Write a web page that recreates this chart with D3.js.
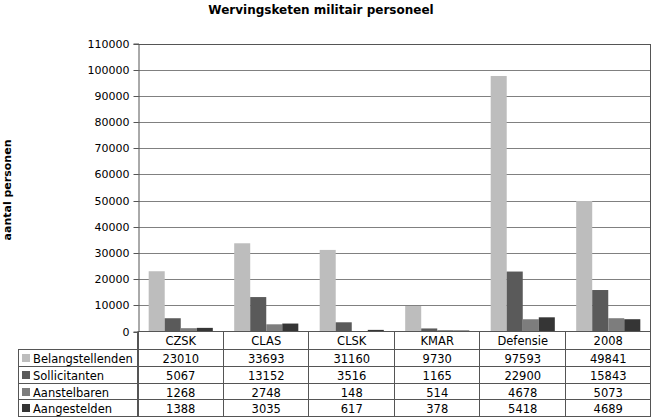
<!DOCTYPE html>
<html><head><meta charset="utf-8">
<script src="https://cdn.jsdelivr.net/npm/d3@7"></script>
<style>body{margin:0;background:#fff}svg{display:block}</style>
</head><body>
<script>
const categories = ["CZSK","CLAS","CLSK","KMAR","Defensie","2008"];
const seriesNames = ["Belangstellenden","Sollicitanten","Aanstelbaren","Aangestelden"];
const belangstellenden = [23010,33693,31160,9730,97593,49841];
const sollicitanten = [5067,13152,3516,1165,22900,15843];
const aanstelbaren = [1268,2748,148,514,4678,5073];
const aangestelden = [1388,3035,617,378,5418,4689];
const yTicks = [0,10000,20000,30000,40000,50000,60000,70000,80000,90000,100000,110000];
const colors = ["#bdbdbd","#5a5a5a","#7d7d7d","#353535"];
const seriesValues = [belangstellenden, sollicitanten, aanstelbaren, aangestelden];

(function(){
const W=653,H=417;
const svg=d3.select("body").append("svg").attr("width",W).attr("height",H);
const pL=138,pR=651,pT=43.5,pB=331.5;
const font="DejaVu Sans, Verdana, sans-serif";

const x=d3.scaleBand().domain(categories).range([pL,pR]).paddingInner(0.25).paddingOuter(0.125);
const xc=d3.scaleBand().domain(categories).range([pL,pR]);
const xs=d3.scaleBand().domain(seriesNames).range([0,x.bandwidth()]);
const y=d3.scaleLinear().domain([0,110000]).range([pB,pT]);

svg.append("text").attr("x",321).attr("y",14).attr("text-anchor","middle")
  .attr("font-family",font).attr("font-weight","bold").attr("font-size",12).text("Wervingsketen militair personeel");
svg.append("text").attr("transform","translate(11,190) rotate(-90)").attr("text-anchor","middle")
  .attr("font-family",font).attr("font-weight","bold").attr("font-size",11).text("aantal personen");

// gridlines
svg.append("g").selectAll("line").data(yTicks.slice(1)).join("line")
  .attr("x1",pL).attr("x2",pR).attr("y1",d=>Math.round(y(d))+0.5).attr("y2",d=>Math.round(y(d))+0.5)
  .attr("stroke",d=>d===110000?"#555":"#808080").attr("stroke-width",1);
// right border
svg.append("line").attr("x1",pR-0.5).attr("x2",pR-0.5).attr("y1",Math.round(y(110000))+0.5).attr("y2",pB)
  .attr("stroke","#555");

// bars
seriesNames.forEach((s,si)=>{
  svg.append("g").selectAll("rect").data(categories).join("rect")
    .attr("x",c=>x(c)+xs(s)).attr("width",xs.bandwidth())
    .attr("y",(c,i)=>y(seriesValues[si][i])).attr("height",(c,i)=>pB-y(seriesValues[si][i]))
    .attr("fill",colors[si]);
});

// y axis
const yAxis=d3.axisLeft(y).tickValues(yTicks).tickFormat(d3.format("d")).tickSize(5).tickPadding(4);
const ga=svg.append("g").attr("transform",`translate(${pL+0.5},0)`).call(yAxis);
ga.select(".domain").attr("stroke","#555");
ga.selectAll(".tick line").attr("stroke","#555");
ga.selectAll(".tick").attr("transform",d=>`translate(0,${Math.round(y(d))+0.5})`);
ga.selectAll("text").attr("font-family",font).attr("font-size",11).attr("fill","#000");

// data table
const rowTop=[331.5,349.5,366.5,383.5,399.5,416.5];
const tbl=svg.append("g");
tbl.append("line").attr("x1",pL).attr("x2",pR).attr("y1",rowTop[0]).attr("y2",rowTop[0]).attr("stroke","#555");
for(let r=1;r<rowTop.length;r++){
  tbl.append("line").attr("x1",18).attr("x2",pR).attr("y1",rowTop[r]).attr("y2",rowTop[r]).attr("stroke","#555");
}
tbl.append("line").attr("x1",18.5).attr("x2",18.5).attr("y1",rowTop[1]).attr("y2",rowTop[5]).attr("stroke","#555");
const bounds=categories.map(c=>xc(c)).concat([pR]);
tbl.selectAll(".vl").data(bounds).join("line")
  .attr("x1",d=>Math.round(d)-0.5).attr("x2",d=>Math.round(d)-0.5)
  .attr("y1",rowTop[0]).attr("y2",rowTop[5]).attr("stroke","#555");
tbl.append("line").attr("x1",pL+0.5).attr("x2",pL+0.5).attr("y1",rowTop[0]).attr("y2",rowTop[5]).attr("stroke","#555");

tbl.selectAll(".cat").data(categories).join("text")
  .attr("x",c=>xc(c)+xc.bandwidth()/2).attr("y",rowTop[0]+13.5).attr("text-anchor","middle")
  .attr("font-family",font).attr("font-size",11.5).text(d=>d);
seriesNames.forEach((s,si)=>{
  const ty=rowTop[si+1]+13;
  tbl.append("rect").attr("x",22).attr("y",rowTop[si+1]+4.5).attr("width",8).attr("height",8).attr("fill",colors[si]);
  tbl.append("text").attr("x",33).attr("y",ty).attr("font-family",font).attr("font-size",11.5).text(s);
  tbl.append("g").selectAll("text").data(categories).join("text")
    .attr("x",c=>xc(c)+xc.bandwidth()/2).attr("y",ty).attr("text-anchor","middle")
    .attr("font-family",font).attr("font-size",11.5).text((c,i)=>seriesValues[si][i]);
});
})();
</script>
</body></html>
